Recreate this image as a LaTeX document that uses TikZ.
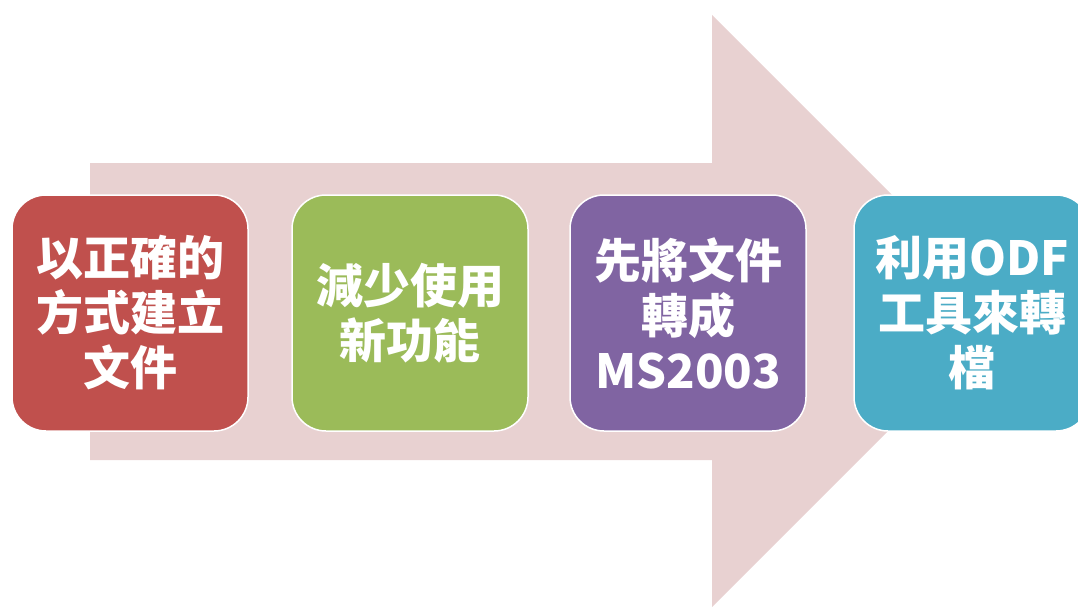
\documentclass[tikz,border=0pt]{standalone}
\usepackage{fontspec}
\newfontfamily\cjk{Noto Sans CJK TC}
\definecolor{fleche}{RGB}{232,209,209}
\definecolor{rouge}{RGB}{192,80,77}
\definecolor{vert}{RGB}{155,187,89}
\definecolor{violet}{RGB}{128,100,162}
\definecolor{bleu}{RGB}{75,172,198}
\begin{document}
\begin{tikzpicture}[x=1pt, y=-1pt]
\tikzset{etape/.style={draw=white, line width=1.5pt, rounded corners=34pt, minimum width=236pt, minimum height=236pt, text=white, align=center, font=\cjk\bfseries\fontsize{47}{55}\selectfont}}
\useasboundingbox (0, 0) rectangle (1078, 607);
\clip (0, 0) rectangle (1078, 607);
\fill[fleche] (90, 163) -- (712, 163) -- (712, 15) -- (1008, 311) -- (712, 607) -- (712, 460) -- (90, 460) -- cycle;
\node[etape, fill=rouge] (E1) at (130, 313) {以正確的\\方式建立\\文件};
\node[etape, fill=vert] (E2) at (410, 313) {減少使用\\新功能};
\node[etape, fill=violet] (E3) at (688, 313) {先將文件\\轉成\\MS2003};
\node[etape, fill=bleu] (E4) at (972, 313) {利用ODF\\工具來轉\\檔};
\end{tikzpicture}
\end{document}
